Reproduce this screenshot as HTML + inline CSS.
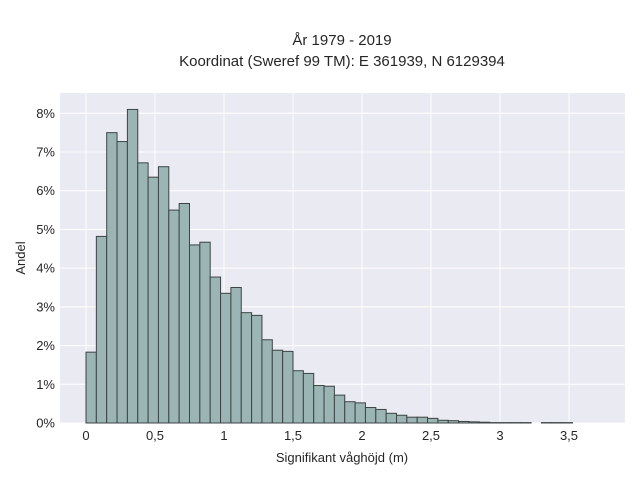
<!DOCTYPE html>
<html><head><meta charset="utf-8"><style>
body{margin:0;background:#fff;font-family:"Liberation Sans",sans-serif;}
svg text{font-family:"Liberation Sans",sans-serif;fill:#262626;}
</style></head><body>
<svg id="chart" width="640" height="480" xmlns="http://www.w3.org/2000/svg">
<text x="342" y="45" text-anchor="middle" font-size="15">År 1979 - 2019</text>
<text x="342" y="66" text-anchor="middle" font-size="15">Koordinat (Sweref 99 TM): E 361939, N 6129394</text>
<rect x="60" y="93" width="565" height="330" fill="#eaeaf2"/>
<g id="grid"></g><g id="bars"></g><g id="ticks"></g>
<text x="342" y="462" text-anchor="middle" font-size="13">Signifikant våghöjd (m)</text>
<text transform="translate(25,258) rotate(-90)" text-anchor="middle" font-size="13">Andel</text>
</svg>
<script>
const binWidth = 0.075;
const shares = [1.83,4.82,7.5,7.27,8.1,6.72,6.35,6.62,5.5,5.67,4.6,4.67,3.77,3.35,3.5,2.85,2.78,2.15,1.88,1.85,1.35,1.28,0.97,0.95,0.72,0.55,0.52,0.4,0.35,0.25,0.2,0.15,0.15,0.12,0.07,0.06,0.04,0.03,0.02,0.01,0.01,0.01,0.01,0,0.01,0.01,0.01];
const xTicks = [0,0.5,1,1.5,2,2.5,3,3.5];
const xTickLabels = ["0","0,5","1","1,5","2","2,5","3","3,5"];
const yTicks = [0,1,2,3,4,5,6,7,8];
const yTickLabels = ["0%","1%","2%","3%","4%","5%","6%","7%","8%"];
const NS="http://www.w3.org/2000/svg";
const X=v=>86+v*(569-86)/3.5;
const Y=v=>423-v*(423-113.3)/8;
const grid=document.getElementById('grid'),bars=document.getElementById('bars'),ticks=document.getElementById('ticks');
function mk(tag,attrs,parent){const e=document.createElementNS(NS,tag);for(const k in attrs)e.setAttribute(k,attrs[k]);parent.appendChild(e);return e;}
xTicks.forEach((t,i)=>{
 const l=mk('line',{x1:X(t),x2:X(t),y1:93,y2:423,stroke:'#fff','stroke-width':1},grid);
 
 
 const tx=mk('text',{x:X(t),y:440,'text-anchor':'middle','font-size':13},ticks);
 tx.textContent=xTickLabels[i];
 
 
});
yTicks.forEach((t,i)=>{
 const l=mk('line',{x1:60,x2:625,y1:Y(t),y2:Y(t),stroke:'#fff','stroke-width':1},grid);
 
 
 const tx=mk('text',{x:55,y:Y(t)+4.5,'text-anchor':'end','font-size':13},ticks);
 tx.textContent=yTickLabels[i];
 
 
});
shares.forEach((v,i)=>{
 if(v<=0)return;
 const x0=X(i*binWidth),x1=X((i+1)*binWidth);
 const r=mk('rect',{x:x0,y:Y(v),width:x1-x0,height:Y(0)-Y(v),fill:'#9bb5b5',stroke:'#3c4444','stroke-width':1},bars);
 
 
});
</script>
</body></html>
